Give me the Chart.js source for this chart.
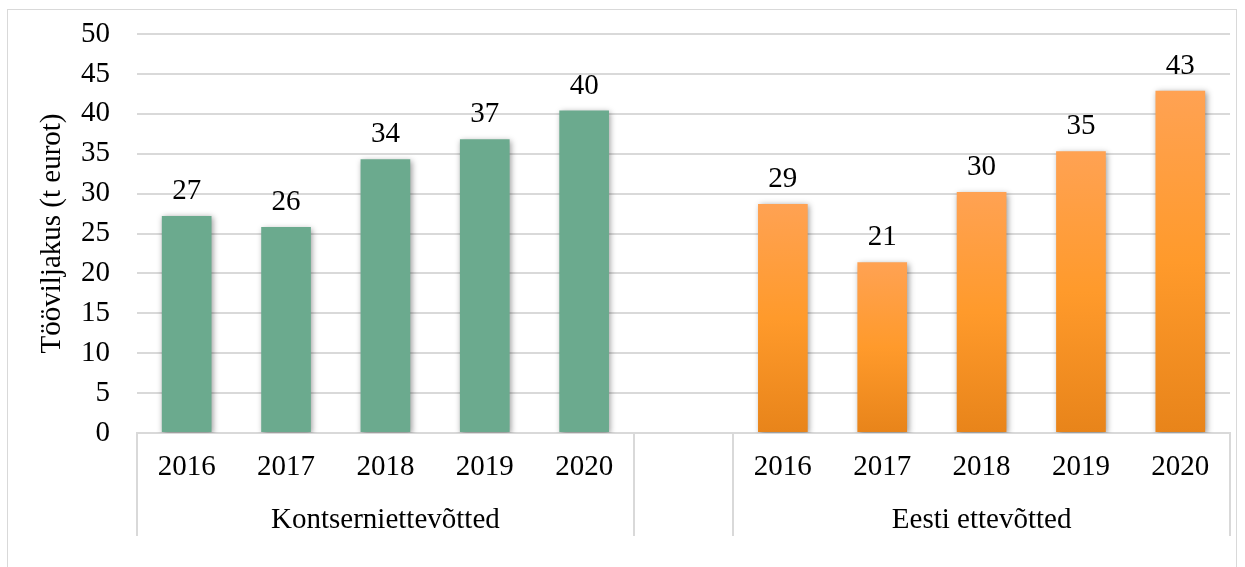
<!DOCTYPE html>
<html>
<head>
<meta charset="utf-8">
<script src="https://cdn.jsdelivr.net/npm/chart.js@4"></script>
<style>
html,body{margin:0;padding:0;background:#fff;}
#wrap{width:1245px;height:567px;position:relative;}
</style>
</head>
<body>
<div id="wrap"><canvas id="c" width="1245" height="567"></canvas></div>
<script>
const categories = ['2016', '2017', '2018', '2019', '2020'];
const groups = ['Kontserniettevõtted', 'Eesti ettevõtted'];
const kontsernValues = [27.2, 25.8, 34.3, 36.8, 40.4];
const eestiValues = [28.7, 21.4, 30.2, 35.3, 42.9];
const yTitle = 'Tööviljakus (t eurot)';
const yMin = 0, yMax = 50, yStep = 5;

const labels = [...categories, '', ...categories];
const values = [...kontsernValues, null, ...eestiValues];
const FONT = '"Liberation Serif", "Times New Roman", serif';
const FS = 29;

function barColor(ctx) {
  const i = ctx.dataIndex;
  if (i < categories.length) return '#6BAA8E';
  const chart = ctx.chart;
  if (!chart.chartArea || ctx.raw == null) return '#FF9A2B';
  const ys = chart.scales.y;
  const top = ys.getPixelForValue(ctx.raw);
  const bottom = ys.getPixelForValue(0);
  const g = chart.ctx.createLinearGradient(0, top, 0, bottom);
  g.addColorStop(0, '#FFA253');
  g.addColorStop(0.5, '#FF9A2B');
  g.addColorStop(1, '#E8841A');
  return g;
}

const borderPlugin = {
  id: 'outerBorder',
  beforeDraw(chart) {
    const c = chart.ctx;
    c.save();
    c.fillStyle = '#fff';
    c.fillRect(0, 0, chart.width, chart.height);
    c.strokeStyle = '#D9D9D9';
    c.lineWidth = 1;
    c.strokeRect(7.5, 9.5, 1229, 600);
    c.restore();
  }
};

const shadowPlugin = {
  id: 'barShadow',
  beforeDatasetsDraw(chart) {
    const c = chart.ctx;
    c.save();
    c.shadowColor = 'rgba(0,0,0,0.4)';
    c.shadowBlur = 6;
    c.shadowOffsetX = 1.5;
    c.shadowOffsetY = 1.5;
  },
  afterDatasetsDraw(chart) {
    chart.ctx.restore();
  }
};

const labelPlugin = {
  id: 'valueLabels',
  afterDatasetsDraw(chart) {
    const c = chart.ctx;
    const meta = chart.getDatasetMeta(0);
    c.save();
    c.font = FS + 'px ' + FONT;
    c.fillStyle = '#000';
    c.textAlign = 'center';
    c.textBaseline = 'alphabetic';
    meta.data.forEach((bar, i) => {
      const v = values[i];
      if (v == null) return;
      c.fillText(String(Math.round(v)), bar.x, bar.y - 17);
    });
    c.restore();
  }
};

const groupPlugin = {
  id: 'groupAxis',
  afterDraw(chart) {
    const c = chart.ctx;
    const xs = chart.scales.x;
    const area = chart.chartArea;
    const n = labels.length;
    const w = (area.right - area.left) / n;
    const edge = (k) => area.left + k * w;
    const bounds = [0, categories.length, categories.length + 1, n];
    c.save();
    c.strokeStyle = '#D9D9D9';
    c.lineWidth = 2;
    bounds.forEach(k => {
      const x = Math.round(edge(k));
      c.beginPath();
      c.moveTo(x, area.bottom);
      c.lineTo(x, 536);
      c.stroke();
    });
    c.font = FS + 'px ' + FONT;
    c.fillStyle = '#000';
    c.textAlign = 'center';
    c.textBaseline = 'middle';
    const g1 = (xs.getPixelForValue(0) + xs.getPixelForValue(categories.length - 1)) / 2;
    const g2 = (xs.getPixelForValue(categories.length + 1) + xs.getPixelForValue(n - 1)) / 2;
    c.fillText(groups[0], g1, 520);
    c.fillText(groups[1], g2, 520);
    c.restore();
  }
};

new Chart(document.getElementById('c'), {
  type: 'bar',
  data: {
    labels: labels,
    datasets: [{
      data: values,
      backgroundColor: barColor,
      borderWidth: 0,
      barPercentage: 0.5,
      categoryPercentage: 1.0
    }]
  },
  options: {
    responsive: false,
    animation: false,
    events: [],
    layout: { padding: { left: 8, right: 15, top: 34, bottom: 0 } },
    plugins: { legend: { display: false }, tooltip: { enabled: false } },
    scales: {
      x: {
        grid: { display: false, drawTicks: false },
        border: { display: true, color: '#D9D9D9', width: 2 },
        ticks: { color: '#000', font: { family: FONT, size: FS }, padding: 17, maxRotation: 0, autoSkip: false },
        afterFit(scale) { scale.height = 134; scale.paddingLeft = 0; scale.paddingRight = 0; }
      },
      y: {
        min: yMin, max: yMax,
        ticks: { stepSize: yStep, color: '#000', font: { family: FONT, size: FS }, padding: 27 },
        grid: { color: '#D9D9D9', lineWidth: 2, drawTicks: false },
        border: { display: false },
        title: { display: true, text: yTitle, color: '#000', font: { family: FONT, size: FS }, padding: { top: 27, bottom: 0 } },
        afterFit(scale) { scale.width = 129; scale.paddingTop = 0; scale.paddingBottom = 0; }
      }
    }
  },
  plugins: [borderPlugin, shadowPlugin, labelPlugin, groupPlugin]
});
</script>
</body>
</html>
